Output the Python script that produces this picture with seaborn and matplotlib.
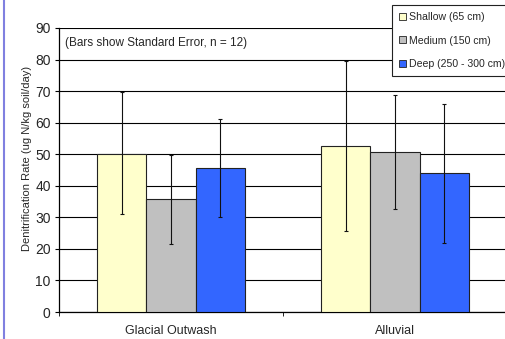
import pandas as pd
import seaborn as sns
import matplotlib.pyplot as plt
from matplotlib.patches import Patch
from matplotlib.lines import Line2D

# datos
soils = ["Glacial Outwash", "Alluvial"]
depths = ["Shallow (65 cm)", "Medium (150 cm)", "Deep (250 - 300 cm)"]
rate_glacial = [50.2, 35.7, 45.7]
rate_alluvial = [52.6, 50.8, 43.9]
err_low_glacial = [19.3, 14.2, 15.6]
err_high_glacial = [19.4, 14.0, 15.6]
err_low_alluvial = [26.9, 18.1, 22.0]
err_high_alluvial = [27.0, 18.0, 22.1]
colors = ["#FFFFCC", "#C0C0C0", "#3366FF"]

df = pd.DataFrame({
    "soil": [soils[0]] * 3 + [soils[1]] * 3,
    "depth": depths * 2,
    "rate": rate_glacial + rate_alluvial,
    "lo": err_low_glacial + err_low_alluvial,
    "hi": err_high_glacial + err_high_alluvial,
})

sns.set_style("white")
plt.rcParams["font.family"] = ["Liberation Sans", "DejaVu Sans"]

fig = plt.figure(figsize=(5.05, 3.39), dpi=100)
ax = fig.add_axes([59 / 505, 27 / 339, 448 / 505, 284 / 339])

sns.barplot(data=df, x="soil", y="rate", hue="depth", order=soils, hue_order=depths,
            palette=colors, width=0.66, gap=0, errorbar=None, edgecolor="#222222",
            linewidth=0.8, legend=False, saturation=1, ax=ax, zorder=3)

# barras de error
for container, d in zip(ax.containers, depths):
    sub = df[df["depth"] == d].set_index("soil").loc[soils]
    xs = [b.get_x() + b.get_width() / 2 for b in container]
    ax.errorbar(xs, sub["rate"], yerr=[sub["lo"], sub["hi"]], fmt="none",
                ecolor="#111111", elinewidth=0.8, capsize=1.5, capthick=0.8, zorder=4)

ax.set_ylim(0, 90)
ax.set_xlim(-0.5, 1.5)
ax.set_yticks(range(0, 91, 10))
ax.yaxis.grid(True, color="black", linewidth=0.8)
ax.set_axisbelow(True)
for s in ["top", "right"]:
    ax.spines[s].set_visible(False)
for s in ["left", "bottom"]:
    ax.spines[s].set_color("black")
    ax.spines[s].set_linewidth(0.9)

ax.set_xticks([-0.5, 0.5, 1.5], minor=True)
ax.tick_params(axis="x", which="minor", direction="out", length=3, color="black", bottom=True)
ax.tick_params(axis="x", which="major", length=0, labelsize=9, pad=9)
ax.tick_params(axis="y", direction="out", length=3, color="black", left=True, labelsize=10, pad=3)
ax.set_xlabel("")
ax.set_ylabel("Denitrification Rate (ug N/kg soil/day)", fontsize=8)
ax.yaxis.set_label_coords(-0.060, 0.539)

ax.text(65 / 505, 1 - 43 / 339, "(Bars show Standard Error, n = 12)", transform=fig.transFigure,
        fontsize=8.5, va="center", ha="left")

handles = [Patch(facecolor=c, edgecolor="#222222", linewidth=0.6) for c in colors]
leg = fig.legend(handles, depths, loc="upper left", bbox_to_anchor=(392 / 505, 1 - 5 / 339),
                 fontsize=7.6, handlelength=0.65, handleheight=0.65, handletextpad=0.3,
                 labelspacing=1.3, borderpad=0.65, borderaxespad=0, frameon=True, fancybox=False,
                 edgecolor="#222222", framealpha=1)
leg.get_frame().set_linewidth(0.8)

# borde azul a la izquierda
fig.add_artist(Line2D([4 / 505, 4 / 505], [0, 1], transform=fig.transFigure,
                      color="#8080E0", linewidth=1.5))

fig.savefig("out.png", dpi=100)
